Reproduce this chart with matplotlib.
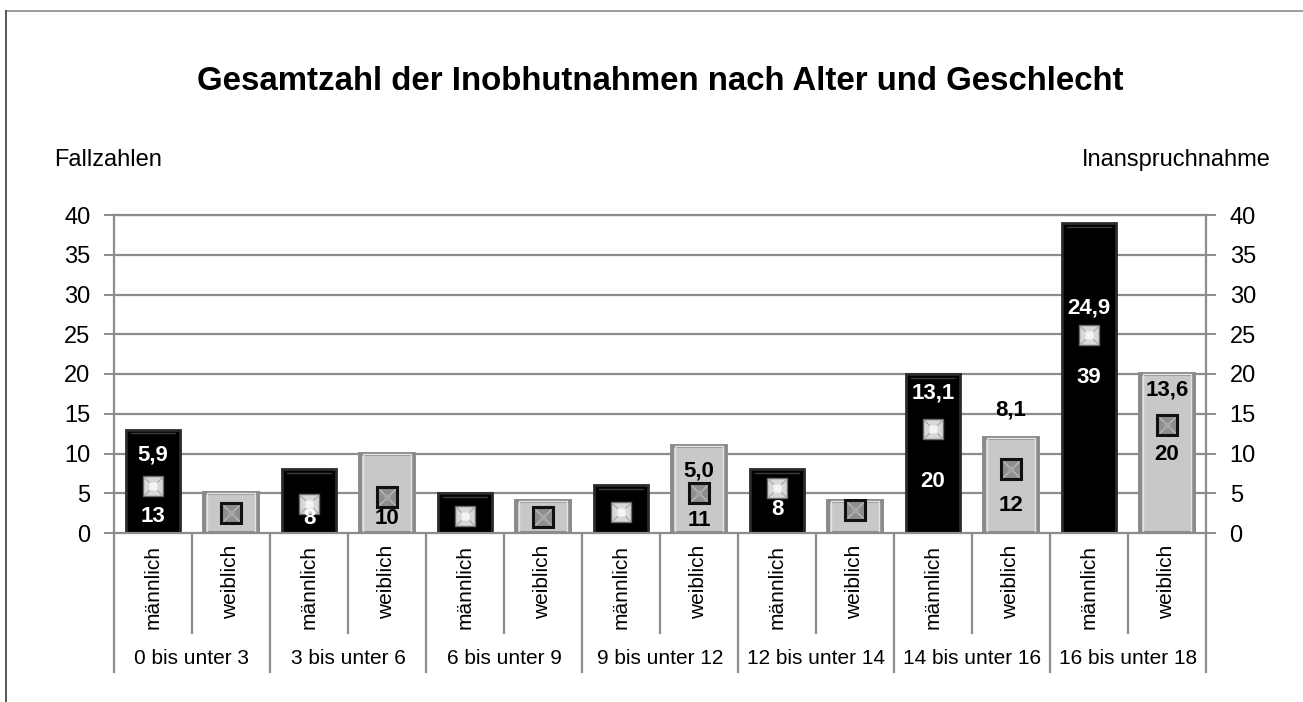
import matplotlib
matplotlib.use("Agg")
import matplotlib.pyplot as plt
from matplotlib.lines import Line2D
import numpy as np

plt.rcParams['font.family'] = ['Liberation Sans', 'DejaVu Sans']

# ---------------- data ----------------
age_groups = ["0 bis unter 3", "3 bis unter 6", "6 bis unter 9", "9 bis unter 12",
              "12 bis unter 14", "14 bis unter 16", "16 bis unter 18"]
sexes = ["männlich", "weiblich"]
fallzahlen = [13, 5, 8, 10, 5, 4, 6, 11, 8, 4, 20, 12, 39, 20]
inanspruchnahme = [5.9, 2.5, 3.6, 4.5, 2.2, 2.0, 2.7, 5.0, 5.6, 2.9, 13.1, 8.1, 24.9, 13.6]
yticks = [0, 5, 10, 15, 20, 25, 30, 35, 40]

title = "Gesamtzahl der Inobhutnahmen nach Alter und Geschlecht"
left_label = "Fallzahlen"
right_label = "Inanspruchnahme"

# which labels are shown, and where (data-unit label heights)
fall_label_pos = {0: 2.05, 2: 1.85, 3: 1.85, 7: 1.6, 8: 3.0, 10: 6.45, 11: 3.4, 12: 19.5, 13: 9.9}
rate_label_pos = {0: 9.8, 7: 7.8, 10: 17.6, 11: 15.5, 12: 28.3, 13: 18.0}

# ---------------- figure ----------------
W, H = 1303, 702
fig = plt.figure(figsize=(W / 100, H / 100), dpi=100)
fig.patch.set_facecolor("white")

# outer frame (only top and left visible)
fig.add_artist(Line2D([6 / W, 1.0], [1 - 11 / H, 1 - 11 / H], transform=fig.transFigure,
                      color="#8c8c8c", lw=1.2))
fig.add_artist(Line2D([6 / W, 6 / W], [0, 1 - 11 / H], transform=fig.transFigure,
                      color="#3a3a3a", lw=1.2))

ax_l, ax_r, ax_t, ax_b = 114, 1206, 215, 533
ax = fig.add_axes([ax_l / W, 1 - ax_b / H, (ax_r - ax_l) / W, (ax_b - ax_t) / H])

n = len(fallzahlen)
x = np.arange(n)
is_m = np.array([i % 2 == 0 for i in range(n)])
bw = 0.68

grid_col = "#8c8c8c"
ax.set_xlim(-0.5, n - 0.5)
ax.set_ylim(0, 40)
ax.set_yticks(yticks)
for y in yticks[1:]:
    ax.axhline(y, color=grid_col, lw=1.6, zorder=0.5)

# bars
for i in range(n):
    if is_m[i]:
        ax.bar(x[i], fallzahlen[i], width=bw, color="#000000", edgecolor="#2a2a2a",
               linewidth=2.0, zorder=2)
        ax.plot([x[i] - bw / 2 + 0.06, x[i] + bw / 2 - 0.06],
                [fallzahlen[i] - 0.45, fallzahlen[i] - 0.45],
                color="#3c3c3c", lw=1.0, zorder=2.5)
    else:
        ax.bar(x[i], fallzahlen[i], width=bw, color="#c8c8c8", edgecolor="#8a8a8a",
               linewidth=2.8, zorder=2)
        ax.bar(x[i], fallzahlen[i], width=bw - 0.07, color="none", edgecolor="#e4e4e4",
               linewidth=1.0, zorder=2.2)

# markers (Inanspruchnahme)
for i in range(n):
    if is_m[i]:
        ax.plot(x[i], inanspruchnahme[i], marker="s", ms=14.5, mfc="#d8d8d8",
                mec="#6a6a6a", mew=1.0, zorder=3, ls="none")
        ax.plot(x[i], inanspruchnahme[i], marker="x", ms=13, mec="#a8a8a8",
                mew=0.9, zorder=3.1, ls="none")
        ax.plot(x[i], inanspruchnahme[i], marker="s", ms=6, mfc="#f4f4f4",
                mec="none", zorder=3.2, ls="none")
    else:
        ax.plot(x[i], inanspruchnahme[i], marker="s", ms=15, mfc="#8e8e8e",
                mec="#111111", mew=2.2, zorder=3, ls="none")
        ax.plot(x[i], inanspruchnahme[i], marker="x", ms=12, mec="#c0c0c0",
                mew=0.9, zorder=3.1, ls="none")
        ax.plot(x[i], inanspruchnahme[i], marker="s", ms=5, mfc="#a6a6a6",
                mec="none", zorder=3.2, ls="none")

# data labels
for i, yy in fall_label_pos.items():
    col = "white" if is_m[i] else "black"
    ax.text(x[i], yy, f"{fallzahlen[i]}", ha="center", va="center", fontsize=16,
            fontweight="bold", color=col, zorder=5)
for i, yy in rate_label_pos.items():
    inside = yy < fallzahlen[i]
    col = "white" if (is_m[i] and inside) else "black"
    ax.text(x[i], yy, f"{inanspruchnahme[i]:.1f}".replace(".", ","), ha="center",
            va="center", fontsize=16, fontweight="bold", color=col, zorder=5)

# spines & ticks
for s in ax.spines.values():
    s.set_color(grid_col)
    s.set_linewidth(1.6)
ax.set_xticks([])
ax.tick_params(axis="y", which="both", length=7, width=1.4, color=grid_col,
               labelsize=17, pad=10, direction="out")

ax2 = ax.twinx()
ax2.set_ylim(0, 40)
ax2.set_yticks(yticks)
ax2.tick_params(axis="y", length=7, width=1.4, color=grid_col, labelsize=17, pad=10)
for s in ax2.spines.values():
    s.set_visible(False)
ax2.set_xticks([])

# two-level category axis
ax_h = ax_b - ax_t
def fy(px):
    return -px / ax_h

xt = ax.get_xaxis_transform()
for k in range(n + 1):
    xb = k - 0.5
    depth = 139 if k % 2 == 0 else 100
    ax.add_line(Line2D([xb, xb], [0, fy(depth)], transform=xt, color=grid_col,
                       lw=1.6, clip_on=False))
for i in range(n):
    ax.text(x[i], fy(12), sexes[i % 2], transform=xt, rotation=90, ha="center",
            va="top", fontsize=15)
for g, name in enumerate(age_groups):
    ax.text(2 * g + 0.5, fy(125), name, transform=xt, ha="center", va="center",
            fontsize=15)

# titles
fig.text(660 / W, 1 - 81 / H, title, ha="center", va="center", fontsize=23.8,
         fontweight="bold")
fig.text(54 / W, 1 - 160 / H, left_label, ha="left", va="center", fontsize=17)
fig.text(1271 / W, 1 - 160 / H, right_label, ha="right", va="center", fontsize=17)

fig.savefig("out.png", dpi=100)
